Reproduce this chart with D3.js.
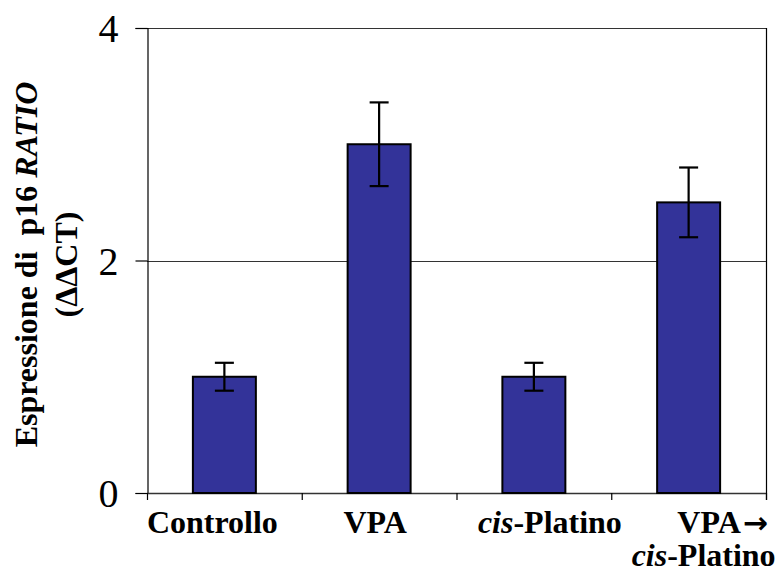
<!DOCTYPE html>
<html>
<head>
<meta charset="utf-8">
<script src="https://cdn.jsdelivr.net/npm/d3@7"></script>
<style>
  html, body { margin: 0; padding: 0; background: #ffffff; }
  svg { display: block; }
  text { font-family: "Liberation Serif", "Times New Roman", serif; fill: #000; }
</style>
</head>
<body>
<svg id="chart" width="779" height="572"></svg>
<script>
// p16 expression ratio (ΔΔCT) by treatment
const categories = ["Controllo", "VPA", "cis-Platino", "VPA→ cis-Platino"];
const ratioValues = [1.0, 3.0, 1.0, 2.5];
const ratioErrors = [0.12, 0.36, 0.12, 0.30];
const yTicks = [0, 2, 4];

const W = 779, H = 572;
const plot = { left: 147, right: 766, top: 28, bottom: 493 };

const svg = d3.select("#chart");

const x = d3.scaleBand()
  .domain(categories)
  .range([plot.left, plot.right])
  .paddingInner(0.593)
  .paddingOuter(0.2965);

const y = d3.scaleLinear().domain([0, 4]).range([plot.bottom, plot.top]);

// frame: top border and right border
svg.append("line")
  .attr("x1", plot.left).attr("x2", plot.right)
  .attr("y1", plot.top + 0.5).attr("y2", plot.top + 0.5)
  .attr("stroke", "#333").attr("stroke-width", 1.2);
svg.append("line")
  .attr("x1", plot.right + 0.5).attr("x2", plot.right + 0.5)
  .attr("y1", plot.top).attr("y2", plot.bottom + 7)
  .attr("stroke", "#000").attr("stroke-width", 1.2);

// horizontal gridlines (inner ticks only)
svg.append("g")
  .selectAll("line")
  .data(yTicks.filter(d => d !== 0 && d !== 4))
  .join("line")
  .attr("x1", plot.left).attr("x2", plot.right)
  .attr("y1", d => Math.round(y(d)) + 0.5).attr("y2", d => Math.round(y(d)) + 0.5)
  .attr("stroke", "#333").attr("stroke-width", 1.2);

// y axis
const yAxis = d3.axisLeft(y).tickValues(yTicks).tickSize(12).tickPadding(0).tickFormat(d3.format("d"));
const gy = svg.append("g")
  .attr("transform", `translate(${plot.left + 0.5},0)`)
  .call(yAxis);
gy.select(".domain").attr("stroke", "#000").attr("stroke-width", 1.2);
gy.selectAll(".tick line").attr("stroke", "#000").attr("stroke-width", 1.2);
gy.selectAll(".tick text")
  .attr("x", -29)
  .attr("dy", "0.34em")
  .style("font-family", "'Liberation Serif', serif")
  .style("font-size", "40px")
  .attr("fill", "#000");

// x axis line and category boundary ticks
svg.append("line")
  .attr("x1", plot.left).attr("x2", plot.right)
  .attr("y1", plot.bottom + 0.5).attr("y2", plot.bottom + 0.5)
  .attr("stroke", "#333").attr("stroke-width", 1.5);
const step = x.step();
svg.append("g")
  .selectAll("line")
  .data(d3.range(categories.length + 1))
  .join("line")
  .attr("x1", i => plot.left + i * step + 0.5).attr("x2", i => plot.left + i * step + 0.5)
  .attr("y1", plot.bottom).attr("y2", plot.bottom + 7)
  .attr("stroke", "#000").attr("stroke-width", 1.2);

// bars
svg.append("g")
  .selectAll("rect")
  .data(categories)
  .join("rect")
  .attr("x", d => x(d))
  .attr("width", x.bandwidth())
  .attr("y", (d, i) => y(ratioValues[i]))
  .attr("height", (d, i) => y(0) - y(ratioValues[i]))
  .attr("fill", "#333399")
  .attr("stroke", "#000")
  .attr("stroke-width", 2);

// error bars
const capHalf = 9.5;
const eb = svg.append("g").attr("stroke", "#000").attr("stroke-width", 2.2);
categories.forEach((c, i) => {
  const cx = x(c) + x.bandwidth() / 2;
  const hi = y(ratioValues[i] + ratioErrors[i]);
  const lo = y(ratioValues[i] - ratioErrors[i]);
  eb.append("line").attr("x1", cx).attr("x2", cx).attr("y1", hi).attr("y2", lo);
  eb.append("line").attr("x1", cx - capHalf).attr("x2", cx + capHalf).attr("y1", hi).attr("y2", hi);
  eb.append("line").attr("x1", cx - capHalf).attr("x2", cx + capHalf).attr("y1", lo).attr("y2", lo);
});

// category labels (bold, "cis" in italics, wrapped where needed)
const labelLines = [
  [[{ t: "Controllo" }]],
  [[{ t: "VPA" }]],
  [[{ t: "cis", i: true }, { t: "-Platino" }]],
  [[{ t: "VPA" }, { t: "→", a: true }], [{ t: "cis", i: true }, { t: "-Platino" }]]
];
const labelShift = [[-12], [-4], [16], [34, 15]];
const gx = svg.append("g").style("font-size", "32px").style("font-weight", "bold");
categories.forEach((c, i) => {
  const cx = x(c) + x.bandwidth() / 2;
  labelLines[i].forEach((parts, li) => {
    const t = gx.append("text")
      .attr("x", cx + labelShift[i][li])
      .attr("y", 533 + li * 33)
      .attr("text-anchor", "middle");
    parts.forEach(p => {
      const s = t.append("tspan").text(p.t).style("font-style", p.i ? "italic" : "normal");
      if (p.a) {
        s.style("font-family", "'DejaVu Sans', sans-serif")
          .style("font-size", "30px")
          .style("font-weight", "bold")
          .attr("dx", 2);
      }
    });
  });
});

// y axis title (two lines, rotated)
const cy = (plot.top + plot.bottom) / 2 + 4;
const title = svg.append("g")
  .style("font-size", "32px").style("font-weight", "bold");
const t1 = title.append("text")
  .attr("transform", `translate(37,${cy}) rotate(-90)`)
  .attr("text-anchor", "middle")
  .style("white-space", "pre");
t1.append("tspan").text("Espressione di  p16 ");
t1.append("tspan").text("RATIO").style("font-style", "italic");
title.append("text")
  .attr("transform", `translate(77,${cy}) rotate(-90)`)
  .attr("text-anchor", "middle")
  .text("(ΔΔCT)");
</script>
</body>
</html>
